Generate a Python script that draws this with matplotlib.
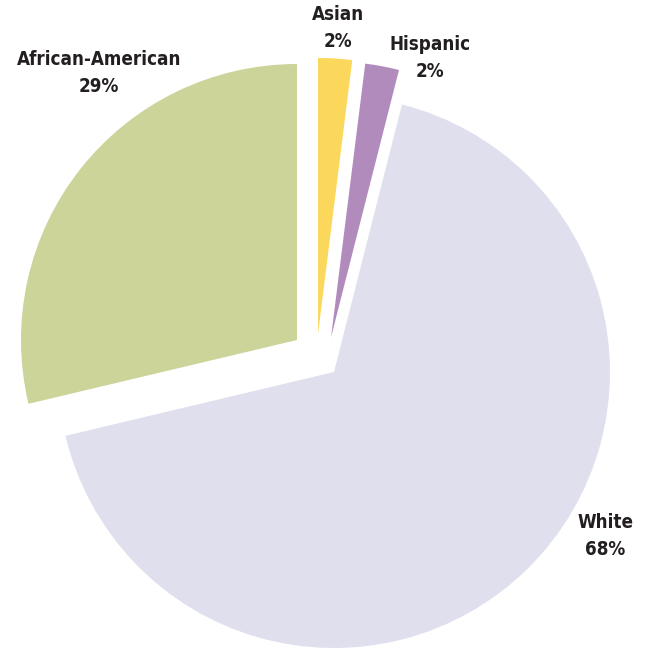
import matplotlib
matplotlib.use("Agg")
import matplotlib.pyplot as plt

categories = ["Asian", "Hispanic", "White", "African-American"]
values = [2, 2, 68, 29]
labels = ["Asian\n2%", "Hispanic\n2%", "White\n68%", "African-American\n29%"]

colors = ["#FBD75B", "#B18BBB", "#E0DFEE", "#CDD49A"]

W, H = 649, 650
fig = plt.figure(figsize=(W / 100, H / 100), dpi=100)
ax = fig.add_axes([0, 0, 1, 1])

cx, cy, R = 315, H - 356, 276
wedges, _ = ax.pie(values, colors=colors, startangle=90, counterclock=False,
                   radius=R, center=(cx, cy),
                   wedgeprops=dict(linewidth=0))
# per-slice displacement (pixels, y up) to reproduce the separated layout
shifts = [(3, 22), (16, 18.5), (19, -16), (-18, 16)]
for w, (dx, dy) in zip(wedges, shifts):
    w.set_center((cx + dx, cy + dy))

ax.set_xlim(0, W)
ax.set_ylim(0, H)
ax.set_aspect("equal")
ax.axis("off")

label_pos = [(338, 28), (430, 58), (605, 536), (99, 73)]
for txt, (x, y) in zip(labels, label_pos):
    ax.text(x, H - y, txt, ha="center", va="center", fontsize=13.5,
            fontweight="bold", family="DejaVu Sans", fontstretch="condensed",
            color="#231F20", linespacing=1.5)

fig.savefig("out.png", dpi=100)
